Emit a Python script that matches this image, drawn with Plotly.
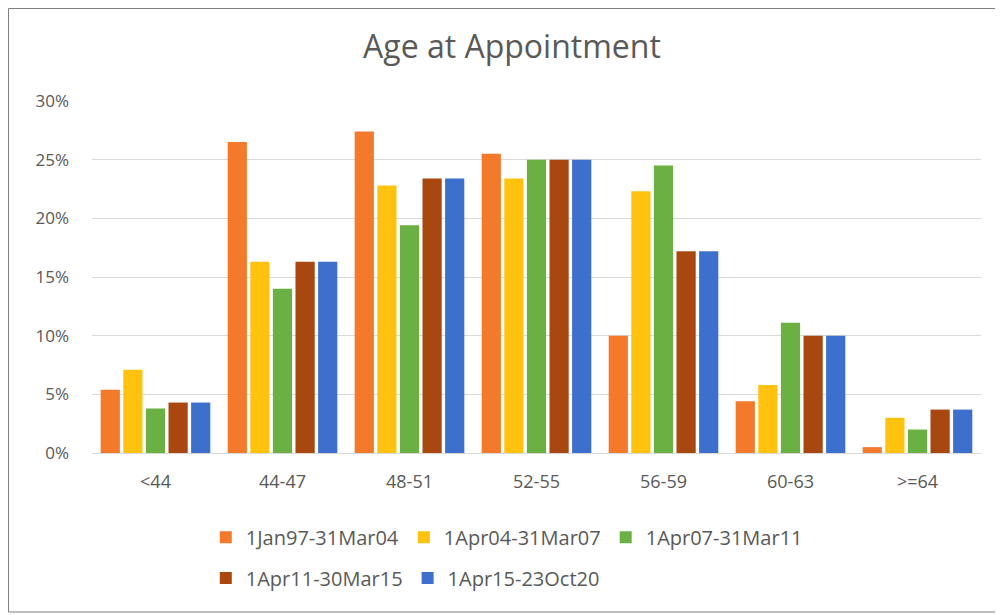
import plotly.graph_objects as go

# 연령 구간
categories = ["<44", "44-47", "48-51", "52-55", "56-59", "60-63", ">=64"]

# 기간별 비율
series_names = [
    "1Jan97-31Mar04",
    "1Apr04-31Mar07",
    "1Apr07-31Mar11",
    "1Apr11-30Mar15",
    "1Apr15-23Oct20",
]
jan97_mar04 = [0.054, 0.265, 0.274, 0.255, 0.100, 0.044, 0.005]
apr04_mar07 = [0.071, 0.163, 0.228, 0.234, 0.223, 0.058, 0.030]
apr07_mar11 = [0.038, 0.140, 0.194, 0.250, 0.245, 0.111, 0.020]
apr11_mar15 = [0.043, 0.163, 0.234, 0.250, 0.172, 0.100, 0.037]
apr15_oct20 = [0.043, 0.163, 0.234, 0.250, 0.172, 0.100, 0.037]

values = [jan97_mar04, apr04_mar07, apr07_mar11, apr11_mar15, apr15_oct20]
colors = ["#F47A2B", "#FFC20E", "#6BB043", "#A8470F", "#3D6FCC"]
legends = ["legend", "legend", "legend", "legend2", "legend2"]

FONT = "Open Sans"
GREY = "#595959"

# 페이지 body 여백(8px) 때문에 그림 크기를 조금 줄임
W, H = 995, 607

fig = go.Figure()
for name, vals, color, lg in zip(series_names, values, colors, legends):
    fig.add_trace(
        go.Bar(
            x=categories,
            y=vals,
            name=name,
            marker=dict(color=color, line=dict(width=0)),
            legend=lg,
        )
    )

legend_style = dict(
    orientation="h",
    xanchor="left",
    yanchor="middle",
    font=dict(family=FONT, size=20, color=GREY),
    bgcolor="rgba(0,0,0,0)",
    itemwidth=30,
    tracegroupgap=0,
)

fig.update_layout(
    width=W,
    height=H,
    barmode="group",
    bargap=0.11,
    bargroupgap=0.15,
    paper_bgcolor="white",
    plot_bgcolor="white",
    margin=dict(t=93, b=162, l=84, r=22),
    font=dict(family=FONT, color=GREY),
    title=dict(
        text="Age at Appointment",
        x=0.5065,
        xanchor="center",
        y=1 - 39 / H,
        yanchor="middle",
        font=dict(family=FONT, size=32, color=GREY),
    ),
    xaxis=dict(
        showgrid=False,
        showline=False,
        ticks="",
        ticklabelstandoff=16,
        tickfont=dict(family=FONT, size=18, color=GREY),
    ),
    yaxis=dict(
        range=[0, 0.3],
        dtick=0.05,
        tickformat=".0%",
        gridcolor="#D9D9D9",
        gridwidth=1,
        zeroline=True,
        zerolinecolor="#D9D9D9",
        zerolinewidth=1,
        showline=False,
        ticks="",
        ticklabelstandoff=22,
        tickfont=dict(family=FONT, size=17, color=GREY),
    ),
    legend=dict(x=0.128, y=-0.239, **legend_style),
    legend2=dict(x=0.128, y=-0.355, **legend_style),
    shapes=[
        dict(
            type="rect",
            xref="paper",
            yref="paper",
            x0=-0.0939,
            x1=1.0163,
            y0=-0.4517,
            y1=1.2628,
            line=dict(color="#7F7F7F", width=1),
            fillcolor="rgba(0,0,0,0)",
        )
    ],
)

fig.write_html("out.html")
